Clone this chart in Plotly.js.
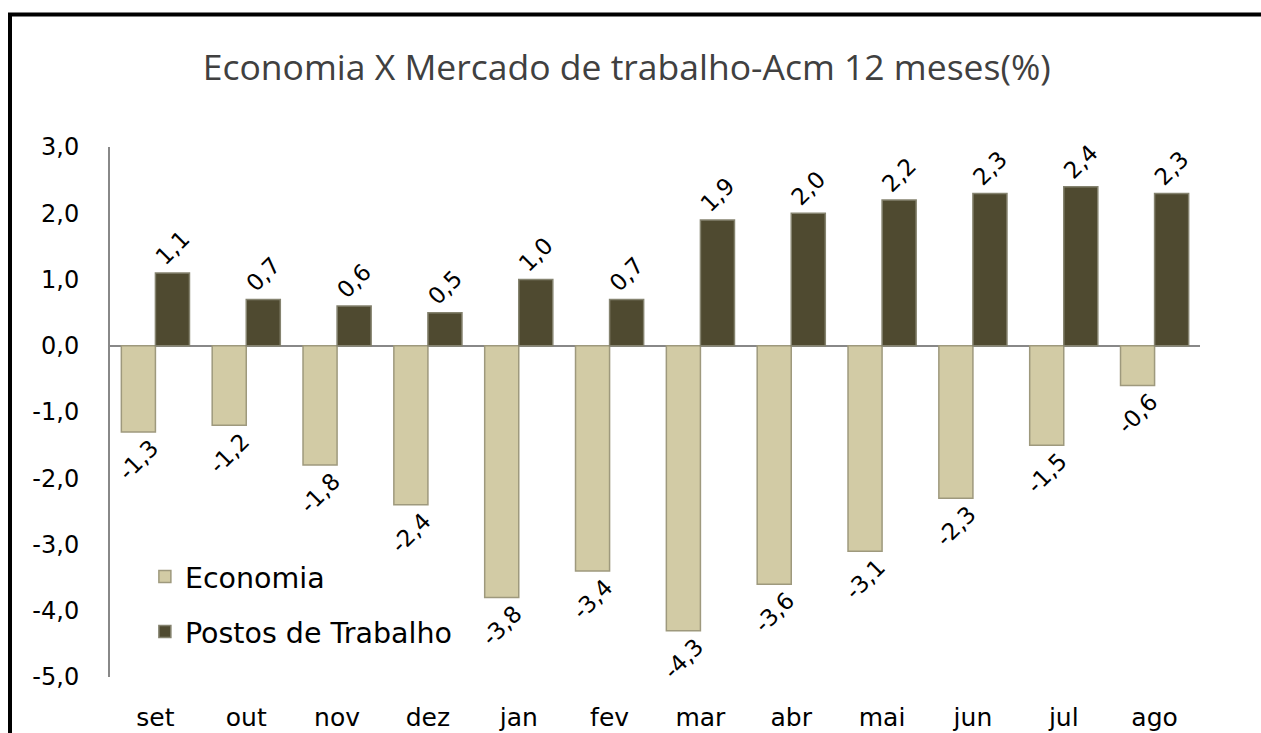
<!DOCTYPE html>
<html>
<head>
<meta charset="utf-8">
<script src="https://cdn.plot.ly/plotly-3.0.1.min.js"></script>
<style>html,body{margin:0;padding:0;background:#fff;}#chart{width:1261px;height:733px;}</style>
</head>
<body>
<div id="chart"></div>
<script>
const months = ['set','out','nov','dez','jan','fev','mar','abr','mai','jun','jul','ago'];
const economia = [-1.3,-1.2,-1.8,-2.4,-3.8,-3.4,-4.3,-3.6,-3.1,-2.3,-1.5,-0.6];
const postos = [1.1,0.7,0.6,0.5,1.0,0.7,1.9,2.0,2.2,2.3,2.4,2.3];
const yTickVals = [-5,-4,-3,-2,-1,0,1,2,3];

const fmt = v => v.toFixed(1).replace('.', ',');
const FONT = 'DejaVu Sans, Verdana, sans-serif';

const labelFont = {family: FONT, size: 23, color: '#000'};

const traces = [
  {
    type: 'bar', name: 'Economia', x: months, y: economia,
    text: economia.map(fmt), textposition: 'outside', textangle: -45,
    textfont: labelFont, constraintext: 'none', cliponaxis: false,
    marker: {color: '#D2CBA5', line: {color: '#9E997D', width: 1.5}},
    legendgroup: 'a', hoverinfo: 'x+y'
  },
  {
    type: 'bar', name: 'Postos de Trabalho', x: months, y: postos,
    text: postos.map(fmt), textposition: 'outside', textangle: -45,
    textfont: labelFont, constraintext: 'none', cliponaxis: false,
    marker: {color: '#4F4A30', line: {color: '#85836F', width: 1.5}},
    legendgroup: 'b', hoverinfo: 'x+y'
  }
];

const layout = {
  width: 1261, height: 733,
  margin: {l: 110, r: 61, t: 147, b: 56},
  paper_bgcolor: '#fff', plot_bgcolor: '#fff',
  barmode: 'group', bargap: 0.25, bargroupgap: 0,
  title: {
    text: 'Economia X Mercado de trabalho-Acm 12 meses(%)',
    font: {family: 'Open Sans, sans-serif', size: 35.5, color: '#404040'},
    xref: 'container', x: 0.497, xanchor: 'center',
    yref: 'container', y: 1 - 68/733, yanchor: 'middle'
  },
  xaxis: {
    type: 'category', showgrid: false, showline: false, zeroline: false,
    ticks: 'outside', ticklen: 18, tickcolor: 'rgba(0,0,0,0)',
    tickfont: {family: FONT, size: 25, color: '#000'}
  },
  yaxis: {
    range: [-5, 3], tickvals: yTickVals, ticktext: yTickVals.map(fmt),
    showgrid: false, showline: true, linecolor: '#888', linewidth: 2,
    zeroline: true, zerolinecolor: '#888', zerolinewidth: 2,
    ticks: 'outside', ticklen: 24, tickcolor: 'rgba(0,0,0,0)',
    tickfont: {family: FONT, size: 24, color: '#000'}
  },
  legend: {
    x: 0.032, xanchor: 'left', y: 0.237, yanchor: 'top',
    bgcolor: 'rgba(0,0,0,0)', tracegroupgap: 15, traceorder: 'grouped',
    font: {family: FONT, size: 28.5, color: '#000'}
  },
  showlegend: true,
  shapes: [{
    type: 'rect', xref: 'paper', yref: 'paper', layer: 'above',
    x0: (10 - 110) / 1090, x1: 1.1, y0: -0.2, y1: (677 - 14.5) / 530,
    line: {color: '#000', width: 4}, fillcolor: 'rgba(0,0,0,0)'
  }]
};

Plotly.newPlot('chart', traces, layout, {displayModeBar: false, responsive: false});
</script>
</body>
</html>
